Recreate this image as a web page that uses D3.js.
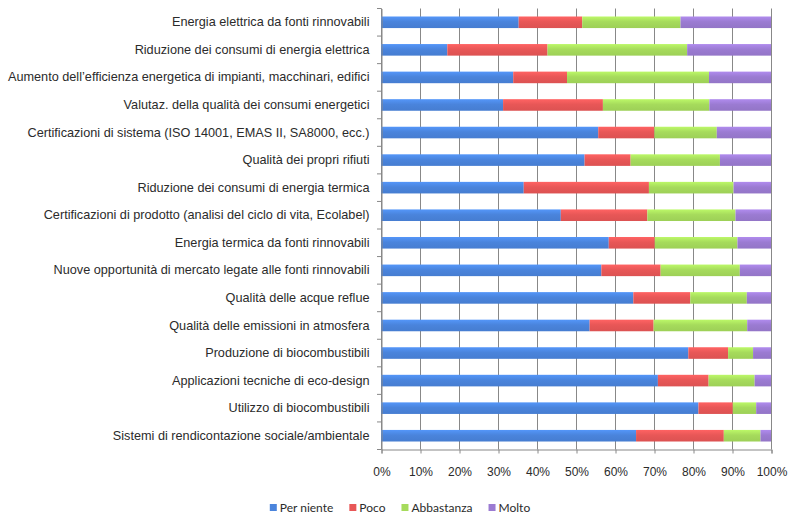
<!DOCTYPE html>
<html>
<head>
<meta charset="utf-8">
<script src="https://cdn.jsdelivr.net/npm/d3@7.9.0/dist/d3.min.js"></script>
<style>
  body { margin: 0; background: #fff; }
  svg { display: block; font-family: Lato, "Open Sans", sans-serif; }
  .label { fill: #2b2b2b; font-size: 12px; }
  .cat { fill: #2b2b2b; font-size: 12.7px; }
</style>
</head>
<body>
<svg id="chart" width="789" height="517"></svg>
<script>
const categories = [
  'Energia elettrica da fonti rinnovabili',
  'Riduzione dei consumi di energia elettrica',
  'Aumento dell’efficienza energetica di impianti, macchinari, edifici',
  'Valutaz. della qualità dei consumi energetici',
  'Certificazioni di sistema (ISO 14001, EMAS II, SA8000, ecc.)',
  'Qualità dei propri rifiuti',
  'Riduzione dei consumi di energia termica',
  'Certificazioni di prodotto (analisi del ciclo di vita, Ecolabel)',
  'Energia termica da fonti rinnovabili',
  'Nuove opportunità di mercato legate alle fonti rinnovabili',
  'Qualità delle acque reflue',
  'Qualità delle emissioni in atmosfera',
  'Produzione di biocombustibili',
  'Applicazioni tecniche di eco-design',
  'Utilizzo di biocombustibili',
  'Sistemi di rendicontazione sociale/ambientale',
];

const seriesNames = ['Per niente', 'Poco', 'Abbastanza', 'Molto'];
const perNiente = [35.3, 17.0, 33.9, 31.3, 55.7, 52.2, 36.6, 46.1, 58.4, 56.5, 64.7, 53.5, 78.8, 71.0, 81.4, 65.4];
const poco = [16.3, 25.7, 13.8, 25.6, 14.4, 11.8, 32.1, 22.2, 11.8, 15.2, 14.6, 16.4, 10.2, 13.0, 8.8, 22.5];
const abbastanza = [25.2, 35.8, 36.4, 27.3, 16.0, 22.9, 21.7, 22.6, 21.2, 20.3, 14.5, 24.0, 6.4, 11.8, 6.0, 9.4];
const molto = [23.2, 21.5, 15.9, 15.8, 13.9, 13.1, 9.6, 9.1, 8.6, 8.0, 6.2, 6.1, 4.6, 4.2, 3.8, 2.7];
const xTicks = [0, 10, 20, 30, 40, 50, 60, 70, 80, 90, 100];

const colors = ['#4a84dc', '#e85757', '#a6db5c', '#9b7bd2'];

const rows = categories.map((name, i) => ({
  name,
  'Per niente': perNiente[i],
  'Poco': poco[i],
  'Abbastanza': abbastanza[i],
  'Molto': molto[i],
}));

const svg = d3.select('#chart');
const plotLeft = 381;
const plotRight = 771;
const plotTop = 8.5;
const plotBottom = 449.5;

const x = d3.scaleLinear().domain([0, 100]).range([plotLeft, plotRight]);
const y = d3.scaleBand()
  .domain(categories)
  .range([plotTop, plotBottom])
  .paddingInner(0.58)
  .paddingOuter(0.29);
const color = d3.scaleOrdinal(seriesNames, colors);

// soft vertical gradient on the bars
const defs = svg.append('defs');
seriesNames.forEach((s, i) => {
  const base = d3.color(colors[i]);
  const g = defs.append('linearGradient')
    .attr('id', `grad${i}`)
    .attr('x1', 0).attr('y1', 0).attr('x2', 0).attr('y2', 1);
  g.append('stop').attr('offset', '0%').attr('stop-color', base.brighter(0.35));
  g.append('stop').attr('offset', '45%').attr('stop-color', base);
  g.append('stop').attr('offset', '100%').attr('stop-color', base.darker(0.15));
});

// gridlines
svg.append('g')
  .selectAll('line')
  .data(xTicks)
  .join('line')
  .attr('x1', (d) => x(d) + 0.5)
  .attr('x2', (d) => x(d) + 0.5)
  .attr('y1', plotTop)
  .attr('y2', plotBottom)
  .attr('stroke', '#888')
  .attr('stroke-width', 1);

// stacked bars
const stacked = d3.stack().keys(seriesNames)(rows);

svg.append('g')
  .selectAll('g')
  .data(stacked)
  .join('g')
  .attr('fill', (d, i) => `url(#grad${i})`)
  .selectAll('rect')
  .data((d) => d)
  .join('rect')
  .attr('x', (d) => x(d[0]))
  .attr('y', (d) => y(d.data.name))
  .attr('width', (d) => x(d[1]) - x(d[0]))
  .attr('height', y.bandwidth());

// category axis with ticks between categories
const yAxis = svg.append('g')
  .attr('transform', `translate(${plotLeft + 0.5},0)`)
  .call(d3.axisLeft(y).tickSize(0).tickPadding(12));
yAxis.select('.domain').attr('stroke', '#888');
yAxis.selectAll('text').attr('class', 'cat');

const bounds = d3.range(categories.length + 1).map((i) => plotTop + i * y.step());
svg.append('g')
  .selectAll('line')
  .data(bounds)
  .join('line')
  .attr('x1', plotLeft - 4)
  .attr('x2', plotLeft + 0.5)
  .attr('y1', (d) => d)
  .attr('y2', (d) => d)
  .attr('stroke', '#888');

// value axis
const xAxis = svg.append('g')
  .attr('transform', `translate(0.5,${plotBottom})`)
  .call(d3.axisBottom(x).tickValues(xTicks).tickFormat((d) => `${d}%`).tickSize(4).tickPadding(14));
xAxis.select('.domain').attr('stroke', '#888');
xAxis.selectAll('.tick line').attr('stroke', '#888');
xAxis.selectAll('text').attr('class', 'label');

// legend
const legend = svg.append('g');
let cursor = 0;
seriesNames.forEach((s) => {
  const g = legend.append('g');
  g.append('rect')
    .attr('x', 0).attr('y', -4)
    .attr('width', 7).attr('height', 7)
    .attr('fill', color(s));
  const t = g.append('text')
    .attr('class', 'label')
    .attr('x', 10)
    .attr('dy', '0.35em')
    .text(s);
  const w = 10 + t.node().getComputedTextLength();
  g.attr('transform', `translate(${cursor},0)`);
  cursor += w + 16;
});
const legendWidth = cursor - 16;
legend.attr('transform', `translate(${400 - legendWidth / 2},508)`);
</script>
</body>
</html>
